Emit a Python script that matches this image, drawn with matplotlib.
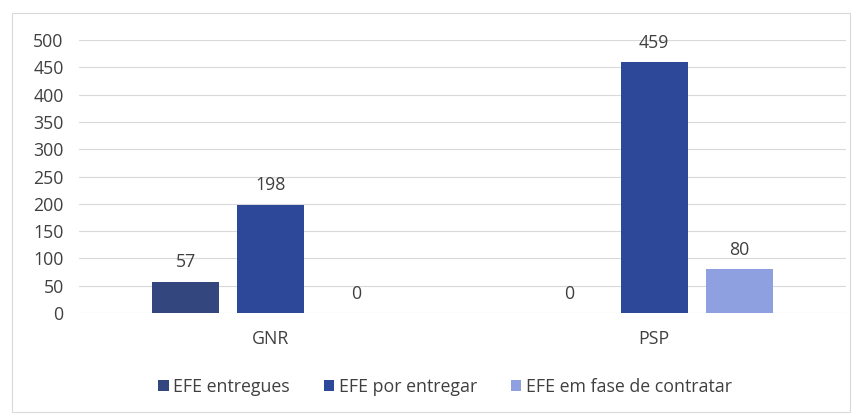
import matplotlib

matplotlib.use("Agg")

import matplotlib.pyplot as plt  # noqa: E402
import numpy as np  # noqa: E402
from matplotlib.patches import Rectangle  # noqa: E402

categories = ["GNR", "PSP"]
series_names = ["EFE entregues", "EFE por entregar", "EFE em fase de contratar"]
entregues = [57, 0]
por_entregar = [198, 459]
fase_contratar = [0, 80]
y_ticks = [0, 50, 100, 150, 200, 250, 300, 350, 400, 450, 500]

colors = ["#33467e", "#2d4899", "#8ea0e0"]
text_color = "#404040"
fs = 12.8

plt.rcParams["font.family"] = ["Open Sans", "DejaVu Sans"]

fig = plt.figure(figsize=(8.61, 4.18), dpi=100)
ax = fig.add_axes([79 / 861, 1 - 313 / 418, (846 - 79) / 861, (313 - 40) / 418])

x = np.arange(len(categories))
width = 0.175
step = 0.222
for i, (name, vals) in enumerate(zip(series_names, [entregues, por_entregar, fase_contratar])):
    pos = x + (i - 1) * step
    bars = ax.bar(pos, vals, width, color=colors[i], label=name, zorder=3)
    for b, v in zip(bars, vals):
        ax.annotate(f"{v}", (b.get_x() + b.get_width() / 2, v),
                    xytext=(0, 14), textcoords="offset points",
                    ha="center", va="center", fontsize=fs, color=text_color)

ax.set_xlim(-0.5, 1.5)
ax.set_ylim(0, 500)
ax.set_yticks(y_ticks)
ax.set_xticks(x)
ax.set_xticklabels(categories)
ax.tick_params(axis="both", length=0, labelsize=fs, colors=text_color)
ax.tick_params(axis="x", pad=12)
ax.tick_params(axis="y", pad=11)
ax.grid(axis="y", color="#d9d9d9", lw=0.8, zorder=0)
for s in ax.spines.values():
    s.set_visible(False)

ax.legend(loc="center", bbox_to_anchor=(445 / 861, 1 - 387 / 418),
          bbox_transform=fig.transFigure, ncol=3, frameon=False,
          fontsize=fs, handlelength=0.6, handleheight=0.6, handletextpad=0.25,
          columnspacing=1.9, labelcolor=text_color)

fig.patches.append(Rectangle((12 / 861, 1 - 412 / 418), (850 - 12) / 861, (412 - 13) / 418,
                             transform=fig.transFigure, fill=False,
                             edgecolor="#d9d9d9", lw=0.8))

fig.savefig("out.png", dpi=100)
